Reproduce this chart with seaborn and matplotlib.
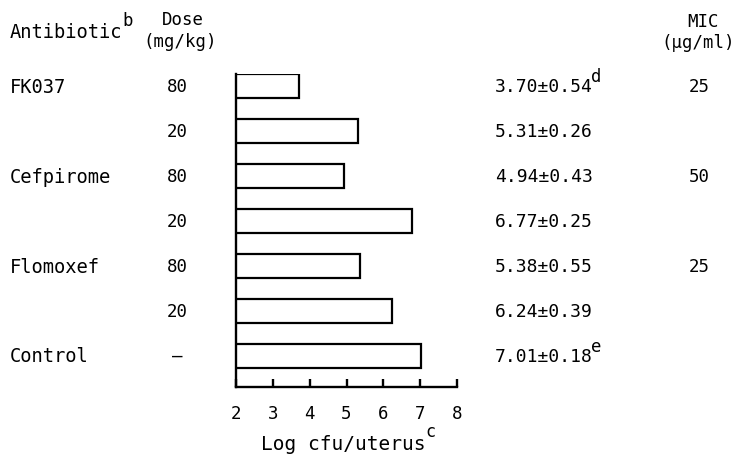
import matplotlib
matplotlib.use("Agg")
import matplotlib.pyplot as plt
import matplotlib.transforms as mtransforms
import seaborn as sns
import pandas as pd

# ---- data ----
antibiotics = ["FK037", "", "Cefpirome", "", "Flomoxef", "", "Control"]
doses = ["80", "20", "80", "20", "80", "20", "\u2014"]
log_cfu = [3.70, 5.31, 4.94, 6.77, 5.38, 6.24, 7.01]
sem = [0.54, 0.26, 0.43, 0.25, 0.55, 0.39, 0.18]
value_notes = ["d", "", "", "", "", "", "e"]
mic = ["25", "", "50", "", "25", "", ""]
row_ids = [f"r{i}" for i in range(len(log_cfu))]
x_ticks = [2, 3, 4, 5, 6, 7, 8]

sns.set_style("ticks")
plt.rcParams["font.family"] = ["DejaVu Sans Mono", "DejaVu Sans"]
plt.rcParams["text.color"] = "black"
plt.rcParams["xtick.color"] = "black"
plt.rcParams["xtick.labelcolor"] = "black"
plt.rcParams["axes.labelcolor"] = "black"

W, H = 741, 460
fig = plt.figure(figsize=(W / 100, H / 100), dpi=100)
ax_left, ax_right, ax_top, ax_bot = 236, 457, 75, 388
ax = fig.add_axes([ax_left / W, 1 - ax_bot / H, (ax_right - ax_left) / W, (ax_bot - ax_top) / H])

df = pd.DataFrame({"row": row_ids, "value": log_cfu})
sns.barplot(data=df, y="row", x="value", order=row_ids, orient="h",
            color="white", edgecolor="black", linewidth=1.6, width=0.54,
            saturation=1, ax=ax)

ax.set_xlim(2, 8)
ax.set_ylim(6.69, -0.27)
ax.set_xticks(x_ticks)
ax.set_xticklabels([str(t) for t in x_ticks], fontsize=12.5)
ax.set_yticks([])
ax.set_ylabel("")
sns.despine(ax=ax, top=True, right=True)
for s in ("left", "bottom"):
    ax.spines[s].set_linewidth(1.7)
    ax.spines[s].set_color("black")
ax.tick_params(axis="x", direction="in", length=6, width=1.7, pad=12, colors="black")

ax.set_xlabel("Log cfu/uterus", fontsize=14)
ax.xaxis.set_label_coords((343 - ax_left) / (ax_right - ax_left), (ax_bot - 445) / (ax_bot - ax_top))
ax.xaxis.label.set_va("center")
ax.annotate("c", xy=(1, 0.7), xycoords=ax.xaxis.label, va="bottom", ha="left", fontsize=12)

# row texts: x in figure pixels, y in data coords
trans = mtransforms.blended_transform_factory(fig.transFigure, ax.transData)
fs = 13.5
for i in range(len(log_cfu)):
    if antibiotics[i]:
        ax.text(10 / W, i, antibiotics[i], transform=trans, ha="left", va="center",
                fontsize=fs, clip_on=False)
    ax.text(177 / W, i, doses[i], transform=trans, ha="center", va="center",
            fontsize=12.5, clip_on=False)
    t = ax.text(495 / W, i, f"{log_cfu[i]:.2f}\u00b1{sem[i]:.2f}", transform=trans,
                ha="left", va="center", fontsize=13, clip_on=False)
    if value_notes[i]:
        ax.annotate(value_notes[i], xy=(0.98, 0.55), xycoords=t, va="bottom", ha="left",
                    fontsize=12.5)
    if mic[i]:
        ax.text(699 / W, i, mic[i], transform=trans, ha="center", va="center",
                fontsize=12.5, clip_on=False)

# headers
ha_t = fig.text(10 / W, 1 - 33 / H, "Antibiotic", ha="left", va="center", fontsize=fs)
ax.annotate("b", xy=(1, 0.65), xycoords=ha_t, va="bottom", ha="left", fontsize=12.5)
fig.text(183 / W, 1 - 20 / H, "Dose", ha="center", va="center", fontsize=12.5)
fig.text(180 / W, 1 - 42 / H, "(mg/kg)", ha="center", va="center", fontsize=12.5)
fig.text(703 / W, 1 - 22 / H, "MIC", ha="center", va="center", fontsize=12.5)
fig.text(698 / W, 1 - 43 / H, "(\u03bcg/ml)", ha="center", va="center", fontsize=12.5)

fig.savefig("out.png", dpi=100, facecolor="white")
